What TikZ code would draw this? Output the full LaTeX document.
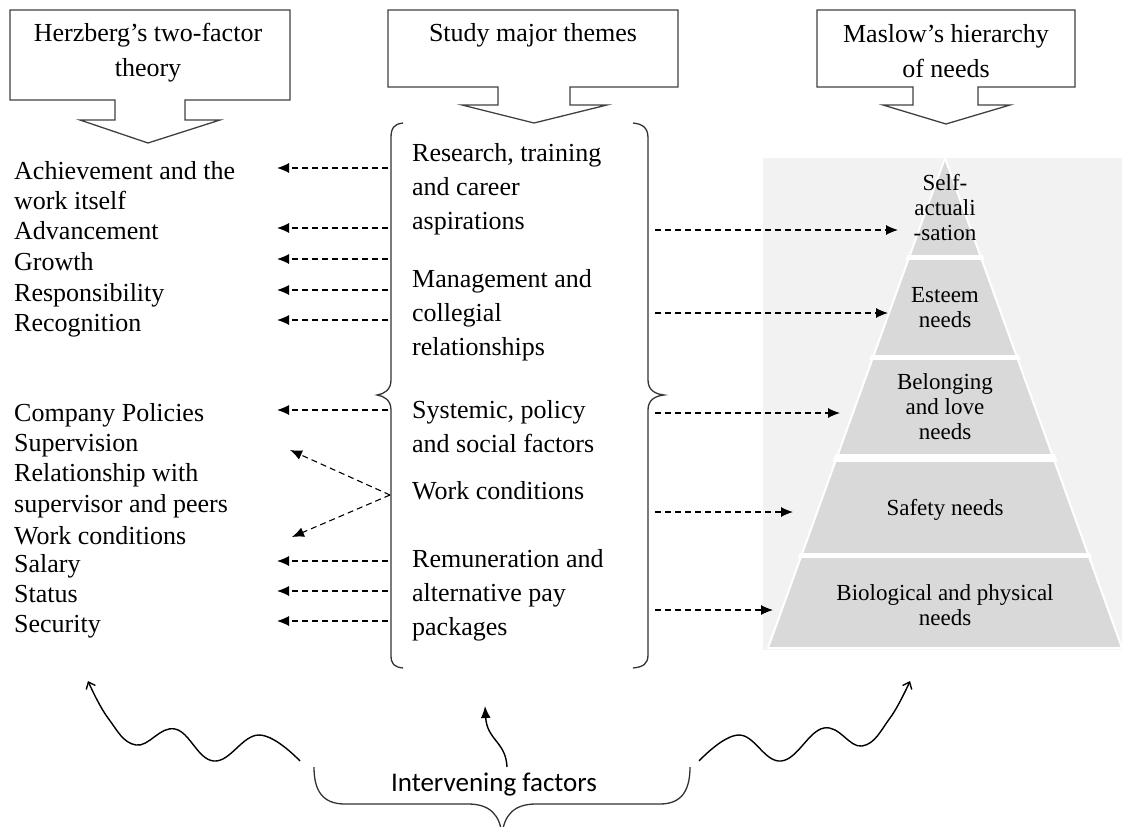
\documentclass[tikz,border=0pt]{standalone}
\usepackage{fontspec}
\setmainfont{Liberation Serif}
\newfontfamily\calibri{Carlito}
\usetikzlibrary{arrows.meta}

\begin{document}
\begin{tikzpicture}[x=1pt,y=-1pt,
    callout/.style={draw=black!75, line width=1.3pt, line join=miter},
    title/.style={inner sep=0pt, align=center, font=\fontsize{26}{35}\selectfont},
    item/.style={anchor=west, inner sep=0pt, text height=28pt, text depth=6pt, font=\fontsize{26}{30}\selectfont},
    theme/.style={anchor=west, inner sep=0pt, align=left, font=\fontsize{26}{34}\selectfont},
    level/.style={inner sep=0pt, align=center, font=\fontsize{23}{25}\selectfont},
    link/.style={line width=1.1pt, dash pattern=on 6pt off 4pt, -{Latex[length=12pt,width=10pt]}},
    wave/.style={line width=1.4pt, -{Straight Barb[length=6pt,width=10pt]}},
    brace/.style={line width=1.3pt, draw=black!80}]

    \useasboundingbox (0,0) rectangle (1122,827);

    % the three headings
    \draw[callout] (10,10) -- (290,10) -- (290,100) -- (185,100) -- (185,120) -- (220,120) -- (148,143)
        -- (80,120) -- (115,120) -- (115,100) -- (10,100) -- cycle;
    \draw[callout] (388,10) -- (678,10) -- (678,87) -- (570,87) -- (570,105) -- (607,105) -- (534,123)
        -- (462,105) -- (498,105) -- (498,87) -- (388,87) -- cycle;
    \draw[callout] (817,10) -- (1075,10) -- (1075,87) -- (978,87) -- (978,105) -- (1010,105) -- (946,124)
        -- (883,105) -- (913,105) -- (913,87) -- (817,87) -- cycle;
    \node[title] (herz) at (148,53) {Herzberg's two-factor\\theory};
    \node[title] (study) at (533,35) {Study major themes};
    \node[title] (maslow) at (946,51) {Maslow's hierarchy\\of needs};

    % pyramid
    \fill[black!5] (763,158) rectangle (1122,650);
    \fill[black!15, draw=white, line width=2pt] (768,648) -- (945,158) -- (1122,648) -- cycle;
    \begin{scope}
        \clip (764,652) -- (945,150) -- (1126,652) -- cycle;
        \fill[white] (760,255) rectangle (1122,260);
        \fill[white] (760,355) rectangle (1122,360);
        \fill[white] (760,454) rectangle (1122,462);
        \fill[white] (760,553) rectangle (1122,558);
    \end{scope}
    \node[level] (self) at (945,208) {Self-\\actuali\\-sation};
    \node[level] (esteem) at (945,308) {Esteem\\needs};
    \node[level] (love) at (945,407) {Belonging\\and love\\needs};
    \node[level] (safety) at (945,510) {Safety needs};
    \node[level] (bio) at (945,605) {Biological and physical\\needs};

    % themes between braces
    \draw[brace] (403,123) .. controls (394,124) and (391,128) .. (391,138) -- (391,380)
        .. controls (391,390) and (384,394) .. (377,395) .. controls (384,396) and (391,400) .. (391,410)
        -- (391,655) .. controls (391,664) and (394,667) .. (403,668);
    \draw[brace] (633,123) .. controls (643,124) and (648,128) .. (648,138) -- (648,380)
        .. controls (648,390) and (655,394) .. (664,395) .. controls (655,396) and (648,400) .. (648,410)
        -- (648,655) .. controls (648,664) and (643,667) .. (633,668);
    \node[theme] (t1) at (412,189) {Research, training\\and career\\aspirations};
    \node[theme] (t2) at (412,315) {Management and\\collegial\\relationships};
    \node[theme] (t3) at (412,427) {Systemic, policy\\and social factors};
    \node[theme] (t4) at (412,491) {Work conditions};
    \node[theme] (t5) at (412,595) {Remuneration and\\alternative pay\\packages};

    % Herzberg factors
    \node[item] (m1) at (14,168) {Achievement and the};
    \node[item] (m1b) at (14,198) {work itself};
    \node[item] (m2) at (14,228) {Advancement};
    \node[item] (m3) at (14,259) {Growth};
    \node[item] (m4) at (14,290) {Responsibility};
    \node[item] (m5) at (14,320) {Recognition};
    \node[item] (g1) at (14,410) {Company Policies};
    \node[item] (g2) at (14,440) {Supervision};
    \node[item] (g3) at (14,470) {Relationship with};
    \node[item] (g3b) at (14,501) {supervisor and peers};
    \node[item] (g4) at (14,533) {Work conditions};
    \node[item] (g5) at (14,561) {Salary};
    \node[item] (g6) at (14,591) {Status};
    \node[item] (g7) at (14,621) {Security};

    % dashed links
    \coordinate (brL) at (388,0);
    \coordinate (tipL) at (277,0);
    \foreach \n in {m1,m2,m3,m4,m5,g1,g5,g6,g7}
        \draw[link] (brL |- \n) -- (tipL |- \n);
    \coordinate (wc) at (390,495);
    \draw[link] (wc) -- (290,450);
    \draw[link] (wc) -- (292,537);
    \foreach \y/\x in {230/898, 313/888, 413/840, 512/793, 610/773}
        \draw[link] (655,\y) -- (\x,\y);

    % intervening factors
    \draw[brace] (314,767) .. controls (314,790) and (322,804) .. (345,804) -- (468,804)
        .. controls (490,804) and (500,815) .. (502,835);
    \draw[brace] (502,835) .. controls (504,815) and (514,804) .. (536,804) -- (660,804)
        .. controls (682,804) and (690,790) .. (690,767);
    \node[font=\calibri\fontsize{27}{30}\selectfont, inner sep=0pt] (ivf) at (494,785) {Intervening factors};
    \draw[wave] plot[smooth, tension=0.7] coordinates {(300,761) (259,735) (214,761) (175,729) (136,745) (108,718) (88,681)};
    \draw[wave] plot[smooth, tension=0.7] coordinates {(699,761) (739,735) (781,761) (824,728) (862,746) (890,718) (910,681)};
    \draw[line width=1.4pt, -{Latex[length=12pt,width=10pt]}] (507,767) .. controls (506,742) and (487,740) .. (485,706);
\end{tikzpicture}
\end{document}
